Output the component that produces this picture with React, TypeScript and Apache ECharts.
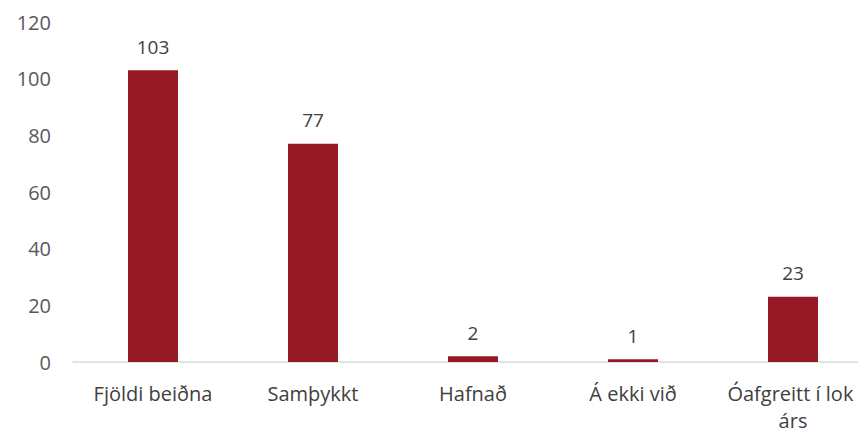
import React, { useEffect, useRef } from "react";
import * as echarts from "echarts";

const categories = ["Fjöldi beiðna", "Samþykkt", "Hafnað", "Á ekki við", "Óafgreitt í lok árs"];
const values = [103, 77, 2, 1, 23];
const yTicks = { min: 0, max: 120, interval: 20 };

export default function App() {
  const ref = useRef<HTMLDivElement>(null);
  useEffect(() => {
    if (!ref.current) return;
    const chart = echarts.init(ref.current, null, { renderer: "svg" });
    const font = "'Open Sans', sans-serif";
    chart.setOption({
      animation: false,
      backgroundColor: "#ffffff",
      grid: { left: 73, right: 27, top: 22, bottom: 67, containLabel: false },
      xAxis: {
        type: "category",
        data: categories,
        axisLine: { show: true, lineStyle: { color: "#D9D9D9", width: 1.5 } },
        axisTick: { show: false },
        axisLabel: {
          interval: 0,
          color: "#404040",
          fontFamily: font,
          fontSize: 20,
          margin: 18,
          width: 170,
          overflow: "break",
          lineHeight: 27,
        },
      },
      yAxis: {
        type: "value",
        min: yTicks.min,
        max: yTicks.max,
        interval: yTicks.interval,
        splitLine: { show: false },
        axisLine: { show: false },
        axisTick: { show: false },
        axisLabel: { color: "#595959", fontFamily: font, fontSize: 20, margin: 22 },
      },
      series: [
        {
          type: "bar",
          data: values,
          barWidth: 50,
          itemStyle: { color: "#961A25" },
          label: {
            show: true,
            position: "top",
            distance: 14,
            color: "#404040",
            fontFamily: font,
            fontSize: 19,
          },
        },
      ],
    });
    return () => chart.dispose();
  }, []);
  return (
    <div style={{ position: "absolute", left: 0, top: 0, width: 858, height: 434, overflow: "hidden", background: "#fff" }}>
      <div ref={ref} style={{ width: 900, height: 434 }} />
    </div>
  );
}
